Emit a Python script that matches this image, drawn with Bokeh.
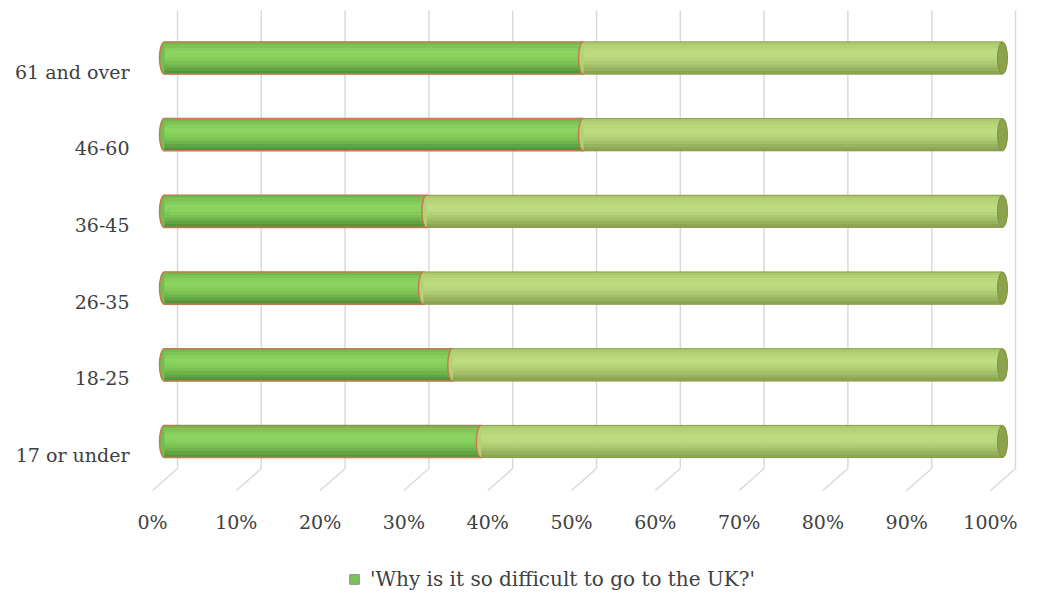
from bokeh.plotting import figure
from bokeh.layouts import column
from bokeh.models import Range1d, FixedTicker, Legend, LegendItem, ColumnDataSource
from bokeh.transform import dodge
from bokeh.embed import file_html
from bokeh.resources import INLINE

# ---------------- data ----------------
categories = ["17 or under", "18-25", "26-35", "36-45", "46-60", "61 and over"]
share_asked = [37.8, 34.4, 30.9, 31.3, 50.0, 50.0]
share_rest = [62.2, 65.6, 69.1, 68.7, 50.0, 50.0]
x_ticks = [0, 10, 20, 30, 40, 50, 60, 70, 80, 90, 100]
x_tick_labels = ["0%", "10%", "20%", "30%", "40%", "50%", "60%", "70%", "80%", "90%", "100%"]
series_name = "'Why is it so difficult to go to the UK?'"

# ---------------- layout constants ----------------
W, H1, H2 = 1029, 548, 44
FRAME_L, FRAME_T, FRAME_B = 140, 8, 48
frame_w, frame_h = W - FRAME_L, H1 - FRAME_T - FRAME_B
PX_X = 8.38      # px per percent
PX_Y = 76.7      # px per category
x_start = -12 / PX_X
y_start = -45.5 / PX_Y

BAR_SHIFT_X = 12 / PX_X     # bars sit deeper than the floor front
WALL_SHIFT_X = 25 / PX_X    # back wall offset
BAR_OFF_Y = 13.5 / PX_Y
FLOOR_BACK = -13.5 / PX_Y
FLOOR_FRONT = -35.5 / PX_Y
WALL_TOP = 5 + 61 / PX_Y
BH = 0.42
FONT = "DejaVu Serif"
TXT = "#404040"

p = figure(width=W, height=H1, output_backend="svg", toolbar_location=None,
           x_range=Range1d(x_start, x_start + frame_w / PX_X),
           y_range=Range1d(y_start, y_start + frame_h / PX_Y),
           min_border_left=FRAME_L, min_border_right=0, min_border_top=FRAME_T,
           min_border_bottom=FRAME_B)
p.extra_x_ranges = {"bars": Range1d(x_start - BAR_SHIFT_X, x_start - BAR_SHIFT_X + frame_w / PX_X)}
p.outline_line_color = None
p.xgrid.visible = False
p.ygrid.visible = False

# ---------------- 3D walls / floor ----------------
wall_x = [t + WALL_SHIFT_X for t in x_ticks]
p.segment(x0=wall_x, y0=[FLOOR_BACK] * len(x_ticks), x1=wall_x, y1=[WALL_TOP] * len(x_ticks),
          line_color="#d9d9d9", line_width=1.5)
p.segment(x0=wall_x, y0=[FLOOR_BACK] * len(x_ticks), x1=x_ticks, y1=[FLOOR_FRONT] * len(x_ticks),
          line_color="#d9d9d9", line_width=1.5)

# ---------------- bars ----------------
ypos = list(range(len(categories)))
src = ColumnDataSource(dict(
    y=ypos,
    zero=[0] * len(categories),
    asked=share_asked,
    end=[a + b for a, b in zip(share_asked, share_rest)],
))

def yd(off):
    return dodge("y", BAR_OFF_Y + off)

DARK_LINE, LIGHT_LINE = "#c47a50", "#8a9f4c"
DARK_BANDS = ["#72ba4d", "#7cc454", "#86cd5b", "#8cd460", "#8ad25e",
              "#83cb59", "#7ac253", "#6eb44b", "#62a443", "#55943b"]
LIGHT_BANDS = ["#abca6d", "#b3d275", "#b9d87b", "#bddb7f", "#bcda7e",
               "#b6d479", "#adcb71", "#a3c068", "#98b35e", "#8ba553"]
NB = len(DARK_BANDS)
band_h = BH / NB

def shaded(left, right, bands):
    for i, col in enumerate(bands):
        off = BH / 2 - band_h * (i + 0.5)
        p.hbar(y=yd(off), left=left, right=right, height=band_h * 1.15, source=src,
               fill_color=col, line_color=None, x_range_name="bars")

def edges(left, right, color, width):
    for off in (BH / 2, -BH / 2):
        p.segment(x0=left, y0=yd(off), x1=right, y1=yd(off), source=src,
                  line_color=color, line_width=width, x_range_name="bars")

# left rounded end
p.ellipse(x="zero", y=yd(0), width=10, height=BH, width_units="screen", height_units="data",
          source=src, fill_color="#74bc4f", line_color=DARK_LINE, line_width=1.5,
          x_range_name="bars")

shaded("zero", "asked", DARK_BANDS)
edges("zero", "asked", DARK_LINE, 1.5)

# boundary cap
p.ellipse(x="asked", y=yd(0), width=10, height=BH, width_units="screen", height_units="data",
          source=src, fill_color="#b3d274", line_color=DARK_LINE, line_width=1.5,
          x_range_name="bars")

shaded("asked", "end", LIGHT_BANDS)
edges("asked", "end", LIGHT_LINE, 1)

# right end cap
p.ellipse(x="end", y=yd(0), width=10, height=BH, width_units="screen", height_units="data",
          source=src, fill_color="#8da24b", line_color="#7d9241", line_width=1,
          x_range_name="bars")

# ---------------- axes ----------------
for ax in (p.xaxis[0], p.yaxis[0]):
    ax.axis_line_color = None
    ax.major_tick_line_color = None
    ax.minor_tick_line_color = None
    ax.major_tick_out = 0
    ax.major_tick_in = 0
    ax.major_label_text_font = FONT
    ax.major_label_text_font_size = "19px"
    ax.major_label_text_color = TXT

p.xaxis.ticker = FixedTicker(ticks=x_ticks)
p.xaxis.major_label_overrides = {t: l for t, l in zip(x_ticks, x_tick_labels)}
p.xaxis.major_label_standoff = 10
p.yaxis.ticker = FixedTicker(ticks=ypos)
p.yaxis.major_label_overrides = {i: c for i, c in zip(ypos, categories)}
p.yaxis.major_label_standoff = 11

# ---------------- legend (own strip below the chart) ----------------
lg = figure(width=W, height=H2, output_backend="svg", toolbar_location=None,
            x_range=Range1d(0, 1), y_range=Range1d(0, 1),
            x_axis_type=None, y_axis_type=None, min_border=0)
lg.outline_line_color = None
lg.xgrid.visible = False
lg.ygrid.visible = False
# swatch renderer for the legend key; its single bar lies outside the visible range
swatch = lg.hbar(y=[-5], left=[0], right=[1], height=0.5,
                 fill_color="#7cc455", line_color="#8c8c8c", line_width=1)
legend = Legend(items=[LegendItem(label=series_name, renderers=[swatch])],
                orientation="horizontal", location=(208, 1),
                label_text_font=FONT, label_text_font_size="20px", label_text_color=TXT,
                glyph_width=12, glyph_height=12, label_standoff=10, label_height=16,
                border_line_color=None, background_fill_alpha=0,
                padding=0, margin=0, spacing=0)
lg.add_layout(legend, "center")

layout = column(p, lg, spacing=0)
open("out.html", "w").write(file_html(layout, INLINE))
